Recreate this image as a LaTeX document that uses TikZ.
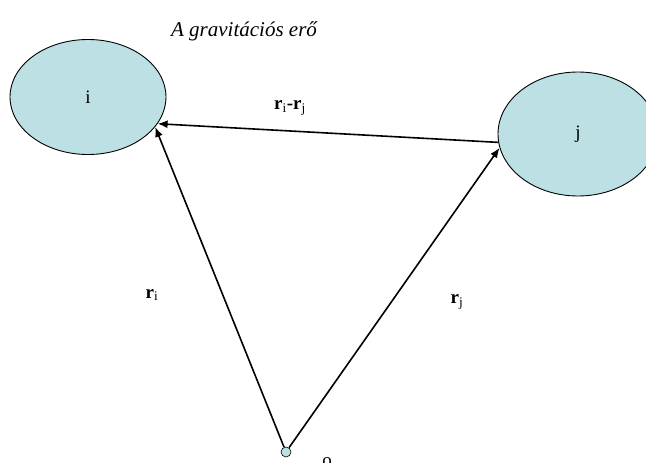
\documentclass[tikz,border=0pt]{standalone}
\usepackage{fontspec}
\setmainfont{Liberation Serif}
\usetikzlibrary{arrows.meta,shapes.geometric}
\definecolor{PaleCyan}{HTML}{BCE0E3}
\tikzset{
  body/.style={ellipse, draw=black, fill=PaleCyan, line width=0.9pt, inner sep=0pt, font=\fontsize{19}{21}\selectfont},
  origin/.style={circle, draw=black, fill=PaleCyan, line width=0.6pt, minimum size=10pt, inner sep=0pt},
  vec/.style={-{Latex[length=10pt,width=8pt]}, line width=1.6pt, draw=black},
  lbl/.style={font=\fontsize{19}{21}\selectfont}
}

\begin{document}
\begin{tikzpicture}[x=1pt, y=-1pt]
\useasboundingbox (0,0) rectangle (646,463);
\clip (0,0) rectangle (646,463);
\node[font=\itshape\fontsize{21}{24}\selectfont] (title) at (244,31) {A gravitációs erő};
\node[body, minimum width=156pt, minimum height=115pt] (i) at (88,97) {i};
\node[body, minimum width=160pt, minimum height=124pt] (j) at (578,134) {j};
\node[origin] (o) at (286,452) {};
\node[lbl] (o label) at (327,462) {o};
\draw[vec] (j.186) -- (i.-21);
\draw[vec] (o) -- (i.-24);
\draw[vec] (o) -- (j.190);
\node[lbl] (rij) at (290,108) {\textbf{r}\textsubscript{i}\textbf{-r}\textsubscript{j}};
\node[lbl] (ri) at (152,295) {\textbf{r}\textsubscript{i}};
\node[lbl] (rj) at (457,302) {\textbf{r}\textsubscript{j}};
\end{tikzpicture}
\end{document}
